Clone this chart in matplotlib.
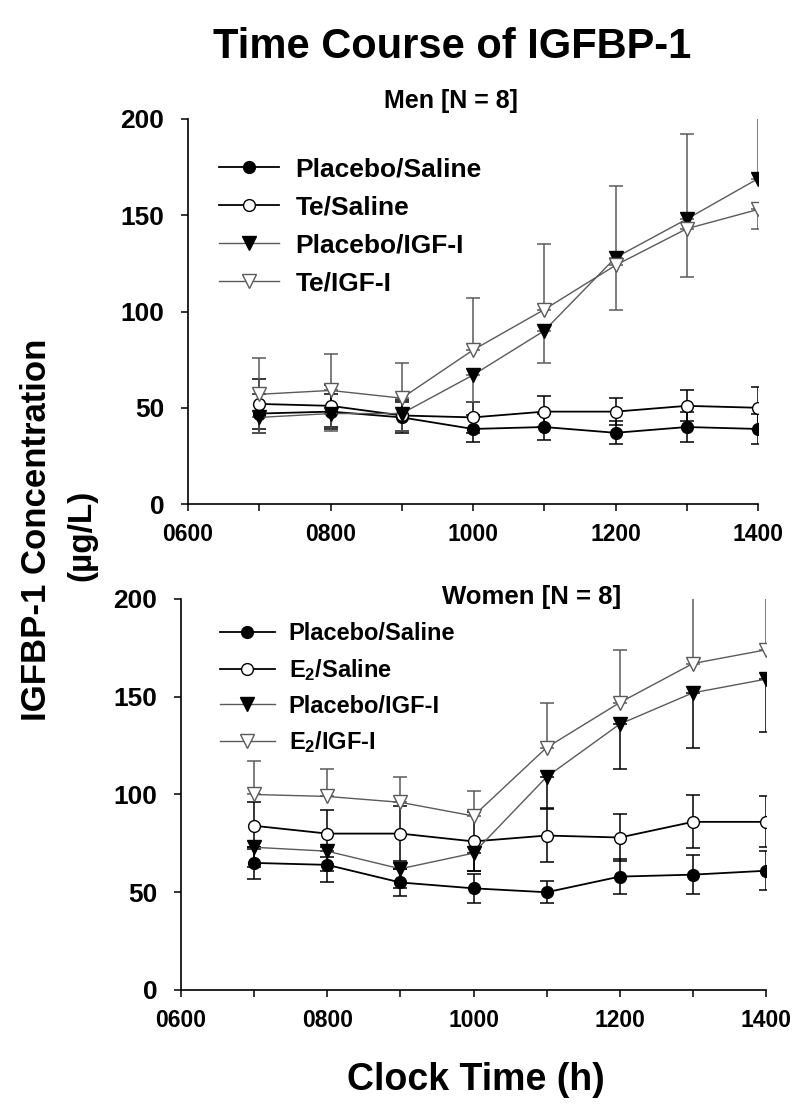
import matplotlib
matplotlib.use("Agg")
import matplotlib.pyplot as plt
from matplotlib import font_manager
import numpy as np

# ---- data -------------------------------------------------------------
times = [700, 800, 900, 1000, 1100, 1200, 1300, 1400]
xtick_pos = [600, 700, 800, 900, 1000, 1100, 1200, 1300, 1400]
xtick_labels = ["0600", "", "0800", "", "1000", "", "1200", "", "1400"]
ytick_pos = [0, 50, 100, 150, 200]

# Men
men_ps = [47, 48, 45, 39, 40, 37, 40, 39]
men_ps_err = [10, 9, 8, 7, 7, 6, 8, 8]
men_ts = [52, 51, 46, 45, 48, 48, 51, 50]
men_ts_err = [13, 11, 8, 8, 8, 7, 8, 11]
men_pi = [45, 47, 47, 67, 90, 128, 148, 169]
men_pi_lo = [8, 9, 9, 14, 17, 0, 0, 0]
men_pi_hi = [0, 0, 0, 0, 0, 37, 44, 40]
men_ti = [57, 59, 55, 80, 101, 124, 143, 153]
men_ti_lo = [0, 0, 0, 0, 0, 23, 25, 10]
men_ti_hi = [19, 19, 18, 27, 34, 0, 0, 0]

# Women
wom_ps = [65, 64, 55, 52, 50, 58, 59, 61]
wom_ps_err = [8, 9, 7, 7.5, 5.5, 9, 10, 10]
wom_es = [84, 80, 80, 76, 79, 78, 86, 86]
wom_es_err = [12, 12, 14, 15, 13.5, 12, 13.5, 13]
wom_pi = [73, 71, 62, 70, 109, 136, 152, 159]
wom_pi_lo = [10, 10, 10, 9, 16, 23, 28, 27]
wom_pi_hi = [0, 0, 0, 0, 0, 0, 0, 0]
wom_ei = [100, 99, 96, 89, 124, 147, 167, 174]
wom_ei_lo = [0, 0, 0, 0, 0, 0, 0, 0]
wom_ei_hi = [17, 14, 13, 13, 23, 27, 34, 30]

# ---- fonts --------------------------------------------------------------
names = {f.name for f in font_manager.fontManager.ttflist}
BASE = "Liberation Sans"
NARROW = "Liberation Sans Narrow" if "Liberation Sans Narrow" in names else BASE
TITLE_SIZE = 34 if NARROW != BASE else 30
plt.rcParams["font.family"] = [BASE, "DejaVu Sans"]
plt.rcParams["font.weight"] = "bold"
plt.rcParams["mathtext.fontset"] = "custom"
plt.rcParams["mathtext.rm"] = BASE + ":bold"
plt.rcParams["mathtext.bf"] = BASE + ":bold"
plt.rcParams["mathtext.default"] = "bf"

GRAY = "#5a5a5a"


def draw_panel(ax, series, legend_kw):
    for vals, lo, hi, ecol in series["err"]:
        ax.errorbar(times, vals, yerr=[lo, hi], fmt="none", ecolor=ecol,
                    elinewidth=1.1, capsize=5, capthick=1.1, zorder=2)
    for vals, label, style in series["lines"]:
        ax.plot(times, vals, label=label, zorder=3, **style)

    ax.set_xlim(600, 1400)
    ax.set_ylim(0, 200)
    ax.set_xticks(xtick_pos)
    ax.set_xticklabels(xtick_labels, fontsize=16.5, fontweight="bold")
    ax.set_yticks(ytick_pos)
    ax.set_yticklabels([str(v) for v in ytick_pos], fontsize=19, fontweight="bold")
    ax.tick_params(axis="both", direction="out", length=5, width=1.1)
    ax.tick_params(axis="y", pad=12)
    ax.tick_params(axis="x", pad=9)
    for s in ("top", "right"):
        ax.spines[s].set_visible(False)
    for s in ("left", "bottom"):
        ax.spines[s].set_linewidth(1.2)
    ax.legend(loc="upper left", frameon=False, numpoints=1, borderpad=0,
              borderaxespad=0, handletextpad=0.6, **legend_kw)


def styles():
    ps = dict(color="black", lw=1.3, marker="o", ms=8.5, mfc="black", mec="black")
    s = dict(color="black", lw=1.3, marker="o", ms=8.5, mfc="white", mec="black", mew=1)
    pi = dict(color=GRAY, lw=1.0, marker="v", ms=9.5, mfc="black", mec="black")
    ti = dict(color=GRAY, lw=1.0, marker="v", ms=9.5, mfc="white", mec=GRAY, mew=1)
    return ps, s, pi, ti


fig = plt.figure(figsize=(8, 11.08), dpi=100)
ax1 = fig.add_axes([0.235, 0.5451, 0.7125, 0.3475])
ax2 = fig.add_axes([0.22625, 0.1065, 0.73125, 0.3529])

ps, s, pi, ti = styles()

men = {
    "err": [
        (men_ps, men_ps_err, men_ps_err, "black"),
        (men_ts, men_ts_err, men_ts_err, "black"),
        (men_pi, men_pi_lo, men_pi_hi, GRAY),
        (men_ti, men_ti_lo, men_ti_hi, GRAY),
    ],
    "lines": [
        (men_ps, "Placebo/Saline", ps),
        (men_ts, "Te/Saline", s),
        (men_pi, "Placebo/IGF-I", pi),
        (men_ti, "Te/IGF-I", ti),
    ],
}
draw_panel(ax1, men, dict(bbox_to_anchor=(0.054, 0.9), fontsize=19,
                          labelspacing=0.53, handlelength=2.3))

women = {
    "err": [
        (wom_ps, wom_ps_err, wom_ps_err, "black"),
        (wom_es, wom_es_err, wom_es_err, "black"),
        (wom_pi, wom_pi_lo, wom_pi_hi, "black"),
        (wom_ei, wom_ei_lo, wom_ei_hi, GRAY),
    ],
    "lines": [
        (wom_ps, "Placebo/Saline", ps),
        (wom_es, r"E$_2$/Saline", s),
        (wom_pi, "Placebo/IGF-I", pi),
        (wom_ei, r"E$_2$/IGF-I", ti),
    ],
}
draw_panel(ax2, women, dict(bbox_to_anchor=(0.067, 0.941), fontsize=17,
                            labelspacing=0.5, handlelength=2.3))

fig.text(0.565, 0.958, "Time Course of IGFBP-1", ha="center", va="center",
         fontsize=TITLE_SIZE, fontweight="bold", family=NARROW)
fig.text(0.564, 0.909, "Men [N = 8]", ha="center", va="center",
         fontsize=18, fontweight="bold", family=NARROW)
fig.text(0.664, 0.461, "Women [N = 8]", ha="center", va="center",
         fontsize=18.5, fontweight="bold", family=NARROW)
fig.text(0.046, 0.522, "IGFBP-1 Concentration", rotation=90, ha="center",
         va="center", fontsize=25, fontweight="bold")
fig.text(0.1025, 0.517, "(\u00b5g/L)", rotation=90, ha="center", va="center",
         fontsize=24, fontweight="bold")
fig.text(0.595, 0.025, "Clock Time (h)", ha="center", va="center",
         fontsize=27, fontweight="bold")

fig.savefig("out.png", dpi=100)
